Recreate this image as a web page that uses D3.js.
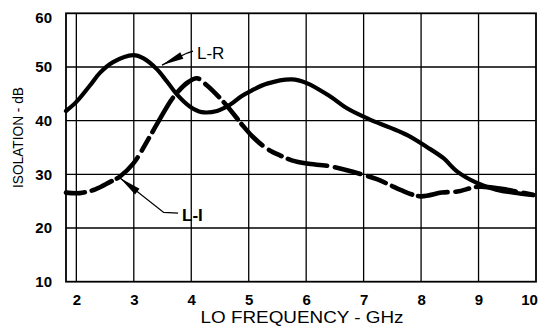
<!DOCTYPE html>
<html>
<head>
<meta charset="utf-8">
<script src="https://cdn.jsdelivr.net/npm/d3@7/dist/d3.min.js"></script>
<style>
  html, body { margin: 0; padding: 0; background: #fff; }
  svg { display: block; }
  text { font-family: "Liberation Sans", Arial, sans-serif; fill: #000; }
</style>
</head>
<body>
<svg id="chart" width="549" height="329"></svg>
<script>
// LO frequency (GHz) sample points and isolation (dB) for each port pair
const lrFreq = [1.82, 2.0, 2.24, 2.41, 2.64, 2.99, 3.17, 3.40, 3.57, 3.75, 3.98, 4.18, 4.45, 4.68, 4.88, 5.05, 5.32, 5.75, 6.01, 6.42, 6.71, 7.09, 7.46, 7.76, 8.10, 8.39, 8.63, 8.97, 9.32, 9.67, 9.95];
const lrIso  = [41.8, 43.5, 46.6, 48.9, 50.9, 52.2, 51.6, 49.6, 47.4, 44.9, 42.6, 41.6, 41.8, 43.0, 44.6, 45.6, 46.9, 47.7, 47.0, 44.5, 42.3, 40.3, 38.7, 37.3, 35.1, 33.0, 30.5, 28.4, 27.1, 26.5, 26.1];

const liFreq = [1.82, 2.06, 2.33, 2.59, 2.76, 2.99, 3.11, 3.40, 3.69, 3.95, 4.10, 4.27, 4.50, 4.68, 4.88, 5.07, 5.30, 5.55, 5.75, 6.01, 6.42, 7.0, 7.23, 7.46, 7.64, 7.99, 8.36, 8.63, 9.0, 9.4, 9.7, 9.95];
const liIso  = [26.6, 26.5, 27.2, 28.6, 29.6, 32.0, 33.9, 39.3, 44.4, 47.2, 47.9, 46.6, 44.2, 42.0, 39.3, 37.0, 34.9, 33.5, 32.6, 32.0, 31.5, 29.9, 29.1, 28.0, 27.1, 25.9, 26.6, 26.8, 27.7, 27.3, 26.7, 26.2];

// Axis ticks
const xTicks = [2, 3, 4, 5, 6, 7, 8, 9, 10];
const yTicks = [10, 20, 30, 40, 50, 60];

// Callout labels: [text x, text y, elbow x, elbow y, tip x, tip y] in data units
const lrCallout = [4.10, 52.6, 3.93, 52.6, 3.49, 50.35];
const liCallout = [3.84, 22.4, 3.52, 22.9, 2.76, 29.3];

const svg = d3.select("#chart");
const plotLeft = 66, plotRight = 536, plotTop = 13.3, plotBottom = 281.7;

const x = d3.scaleLinear().domain([1.82, 10]).range([plotLeft, plotRight]);
const y = d3.scaleLinear().domain([10, 60]).range([plotBottom, plotTop]);

// Grid
const grid = svg.append("g");
grid.selectAll("line.v").data(xTicks.filter(d => d < 10)).enter().append("line")
  .attr("x1", d => x(d)).attr("x2", d => x(d))
  .attr("y1", plotTop).attr("y2", plotBottom)
  .attr("stroke", "#000").attr("stroke-width", 1.3);
grid.selectAll("line.h").data(yTicks.filter(d => d > 10 && d < 60)).enter().append("line")
  .attr("x1", plotLeft).attr("x2", plotRight)
  .attr("y1", d => y(d)).attr("y2", d => y(d))
  .attr("stroke", "#000").attr("stroke-width", 1.3);

// Frame
svg.append("rect")
  .attr("x", plotLeft).attr("y", plotTop)
  .attr("width", plotRight - plotLeft).attr("height", plotBottom - plotTop)
  .attr("fill", "none").attr("stroke", "#000").attr("stroke-width", 1.8);

// Axes (labels only)
const xAxis = svg.append("g")
  .attr("transform", `translate(0,${plotBottom})`)
  .call(d3.axisBottom(x).tickValues(xTicks).tickSize(0).tickPadding(13).tickFormat(d3.format("d")));
xAxis.select(".domain").remove();
xAxis.selectAll("text")
  .style("font-size", "15px").style("font-weight", "bold")
  .attr("dx", d => d === 10 ? -7 : 0);

const yAxis = svg.append("g")
  .attr("transform", `translate(${plotLeft},0)`)
  .call(d3.axisLeft(y).tickValues(yTicks).tickSize(0).tickPadding(14).tickFormat(d3.format("d")));
yAxis.select(".domain").remove();
yAxis.selectAll("text")
  .style("font-size", "15px").style("font-weight", "bold")
  .attr("dy", d => d === 60 ? "0.6em" : "0.32em");

// Axis titles
svg.append("text")
  .attr("x", 302).attr("y", 323)
  .attr("text-anchor", "middle")
  .attr("textLength", 203).attr("lengthAdjust", "spacingAndGlyphs")
  .style("font-size", "16.5px")
  .text("LO FREQUENCY - GHz");

svg.append("text")
  .attr("transform", "translate(22.5,137.5) rotate(-90)")
  .attr("text-anchor", "middle")
  .attr("textLength", 101).attr("lengthAdjust", "spacingAndGlyphs")
  .style("font-size", "14px")
  .text("ISOLATION - dB");

// Curves
const line = d3.line()
  .x(d => x(d[0])).y(d => y(d[1]))
  .curve(d3.curveCatmullRom.alpha(0.5));

svg.append("path")
  .datum(lrFreq.map((f, i) => [f, lrIso[i]]))
  .attr("d", line)
  .attr("fill", "none").attr("stroke", "#000")
  .attr("stroke-width", 4.2).attr("stroke-linecap", "round").attr("stroke-linejoin", "round");

svg.append("path")
  .datum(liFreq.map((f, i) => [f, liIso[i]]))
  .attr("d", line)
  .attr("fill", "none").attr("stroke", "#000")
  .attr("stroke-width", 4.6).attr("stroke-linecap", "round")
  .attr("stroke-dasharray", "19,7,22,6,30,8,14,7,40,8,26,8");

// Callouts with arrowheads
function callout(c, label, bold) {
  const [tx, ty, ex, ey, px, py] = c;
  const X0 = x(tx) - 4, Y0 = y(ty) - 2;
  const Ex = x(ex), Ey = y(ey), Px = x(px), Py = y(py);
  const g = svg.append("g");
  g.append("polyline")
    .attr("points", `${X0},${Y0} ${Ex},${Ey} ${Px},${Py}`)
    .attr("fill", "none").attr("stroke", "#000").attr("stroke-width", 1.3);
  // arrowhead pointing toward the tip
  const ang = Math.atan2(Py - Ey, Px - Ex);
  const len = 22, half = 3.6;
  const bx = Px - len * Math.cos(ang), by = Py - len * Math.sin(ang);
  const nx = -Math.sin(ang) * half, ny = Math.cos(ang) * half;
  g.append("polygon")
    .attr("points", `${Px},${Py} ${bx + nx},${by + ny} ${bx - nx},${by - ny}`)
    .attr("fill", "#000");
  g.append("text")
    .attr("x", x(tx)).attr("y", y(ty))
    .attr("dy", "0.36em")
    .style("font-size", "17px").style("font-weight", bold ? "bold" : "normal")
    .text(label);
}
callout(lrCallout, "L-R", false);
callout(liCallout, "L-I", true);
</script>
</body>
</html>
